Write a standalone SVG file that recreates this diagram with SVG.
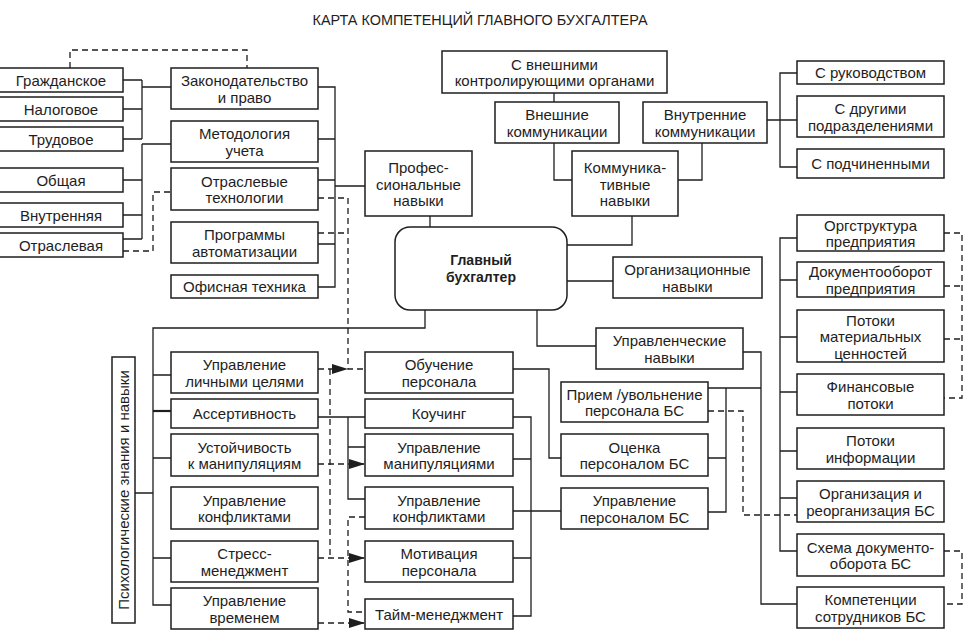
<svg xmlns="http://www.w3.org/2000/svg" width="980" height="642" viewBox="0 0 980 642">
<style>
.b{fill:#fff;stroke:#1e1e1e;stroke-width:1.5}
.t{font-family:"Liberation Sans",Arial,sans-serif;font-size:15px;fill:#1e1e1e;text-anchor:middle;dominant-baseline:central}
.bold{font-weight:bold;font-size:14px}
.c{fill:none;stroke:#1e1e1e;stroke-width:1.3}
.d{fill:none;stroke:#1e1e1e;stroke-width:1.3;stroke-dasharray:6 4}
</style>
<defs>
<marker id="ah" markerUnits="userSpaceOnUse" markerWidth="16" markerHeight="10" refX="16" refY="5" orient="auto">
<path d="M0,0 L16,5 L0,10 z" fill="#1e1e1e"/>
</marker>
</defs>
<rect width="980" height="642" fill="#fff"/>
<text x="480" y="20" class="t" style="font-size:14px" textLength="335" lengthAdjust="spacingAndGlyphs">КАРТА КОМПЕТЕНЦИЙ ГЛАВНОГО БУХГАЛТЕРА</text>

<g id="connectors">
<path class="c" d="M123,80 H142 M123,109 H142 M123,139 H142 M142,80 V139 M142,87 H171"/>
<path class="c" d="M142,144 H171 M142,144 V239 M123,180 H142 M123,215 H142 M123,239 H142"/>
<path class="c" d="M318,87 H335 V287 H318 M318,139 H335 M318,180 H335 M318,244 H335 M335,186 H365"/>
<path class="c" d="M430,216 V227 M554,93 V102 M554,143 V180 H572 M702,143 V180 H678 M632,216 V245 H567"/>
<path class="c" d="M767,120 H797 M797,73 H780 V167 H797 M567,281 H613 M537,310 V346 H596"/>
<path class="c" d="M425,310 V328 H153 V605 H171 M153,375 H171 M153,458 H171 M153,558 H171 M135,493 H153"/>
<path class="c" style="stroke-width:2.2" d="M153,411 H171"/>
<path class="c" d="M318,417 H365 M348,417 V499 H365 M348,447 H365"/>
<path class="c" d="M513,369 H549 V458 H561 M513,417 H531 V616 H513 M513,459 H531 M513,511 H561 M513,558 H531"/>
<path class="c" d="M708,388 H761 M726,388 V512 H708 M708,458 H726 M743,352 H761 V604 H797"/>
<path class="c" d="M797,238 H780 V551 H797 M780,280 H797 M780,337 H797 M780,392 H797 M780,451 H797 M780,498 H797"/>
<path class="d" d="M70,68 V50 H247 V68"/>
<path class="d" d="M123,251 H153 V192 H171"/>
<path class="d" d="M318,198 H348 V369 H365 M318,233 H348"/>
<path class="d" d="M318,369 H348" marker-end="url(#ah)"/>
<path class="d" d="M330,369 V558"/>
<path class="d" d="M318,558 H365" marker-end="url(#ah)"/>
<path class="d" d="M318,464 H365" marker-end="url(#ah)"/>
<path class="d" d="M318,623 H365" marker-end="url(#ah)"/>
<path class="d" d="M365,517 H348 V612 H365"/>
<path class="d" d="M708,411 H743 V515 H797"/>
<path class="d" d="M944,233 H962 V398 H944 M944,286 H962 M944,339 H962"/>
<path class="d" d="M944,551 H962 V604 H944"/>
</g>

<g id="n-grazhd"><rect class="b" x="-1" y="68" width="124" height="24"/><text class="t" x="61" y="80">Гражданское</text></g>
<g id="n-nalog"><rect class="b" x="-1" y="97" width="124" height="24"/><text class="t" x="61" y="109">Налоговое</text></g>
<g id="n-trud"><rect class="b" x="-1" y="127" width="124" height="24"/><text class="t" x="61" y="139">Трудовое</text></g>
<g id="n-obsh"><rect class="b" x="-1" y="168" width="124" height="24"/><text class="t" x="61" y="180">Общая</text></g>
<g id="n-vnutr"><rect class="b" x="-1" y="203" width="124" height="24"/><text class="t" x="61" y="215">Внутренняя</text></g>
<g id="n-otrasl"><rect class="b" x="-1" y="233" width="124" height="24"/><text class="t" x="61" y="245">Отраслевая</text></g>

<g id="n-zakon"><rect class="b" x="171" y="68" width="147" height="41"/><text class="t"><tspan x="244.5" y="80.25">Законодательство</tspan><tspan x="244.5" y="96.75">и право</tspan></text></g>
<g id="n-metod"><rect class="b" x="171" y="121" width="147" height="41"/><text class="t"><tspan x="244.5" y="133.25">Методология</tspan><tspan x="244.5" y="149.75">учета</tspan></text></g>
<g id="n-otrtech"><rect class="b" x="171" y="168" width="147" height="42"/><text class="t"><tspan x="244.5" y="180.75">Отраслевые</tspan><tspan x="244.5" y="197.25">технологии</tspan></text></g>
<g id="n-progr"><rect class="b" x="171" y="222" width="147" height="41"/><text class="t"><tspan x="244.5" y="234.25">Программы</tspan><tspan x="244.5" y="250.75">автоматизации</tspan></text></g>
<g id="n-ofis"><rect class="b" x="171" y="275" width="147" height="23"/><text class="t" x="244.5" y="286.5">Офисная техника</text></g>

<g id="n-prof"><rect class="b" x="365" y="151" width="107" height="65"/><text class="t"><tspan x="418.5" y="167">Профес-</tspan><tspan x="418.5" y="183.5">сиональные</tspan><tspan x="418.5" y="200">навыки</tspan></text></g>
<g id="n-vnkontr"><rect class="b" x="442" y="51" width="225" height="42"/><text class="t"><tspan x="554.5" y="63.75">С внешними</tspan><tspan x="554.5" y="80.25">контролирующими органами</tspan></text></g>
<g id="n-vneshkom"><rect class="b" x="495" y="102" width="124" height="41"/><text class="t"><tspan x="557" y="114.25">Внешние</tspan><tspan x="557" y="130.75">коммуникации</tspan></text></g>
<g id="n-vnutrkom"><rect class="b" x="643" y="102" width="124" height="41"/><text class="t"><tspan x="705" y="114.25">Внутренние</tspan><tspan x="705" y="130.75">коммуникации</tspan></text></g>
<g id="n-kommun"><rect class="b" x="572" y="151" width="106" height="65"/><text class="t"><tspan x="625" y="167">Коммуника-</tspan><tspan x="625" y="183.5">тивные</tspan><tspan x="625" y="200">навыки</tspan></text></g>
<g id="n-glavbuh"><rect class="b" x="395" y="227" width="172" height="83" rx="15"/><text class="t bold"><tspan x="481" y="260">Главный</tspan><tspan x="481" y="277">бухгалтер</tspan></text></g>
<g id="n-organiz"><rect class="b" x="613" y="257" width="149" height="41"/><text class="t"><tspan x="687.5" y="269.25">Организационные</tspan><tspan x="687.5" y="285.75">навыки</tspan></text></g>
<g id="n-upravl"><rect class="b" x="596" y="328" width="147" height="41"/><text class="t"><tspan x="669.5" y="340.25">Управленческие</tspan><tspan x="669.5" y="356.75">навыки</tspan></text></g>

<g id="n-rukov"><rect class="b" x="797" y="61" width="147" height="23"/><text class="t" x="870.5" y="72.5">С руководством</text></g>
<g id="n-drugie"><rect class="b" x="797" y="96" width="147" height="41"/><text class="t"><tspan x="870.5" y="108.25">С другими</tspan><tspan x="870.5" y="124.75">подразделениями</tspan></text></g>
<g id="n-podch"><rect class="b" x="797" y="149" width="147" height="29"/><text class="t" x="870.5" y="163.5">С подчиненными</text></g>

<g id="n-orgstr"><rect class="b" x="797" y="215" width="147" height="36"/><text class="t"><tspan x="870.5" y="224.75">Оргструктура</tspan><tspan x="870.5" y="241.25">предприятия</tspan></text></g>
<g id="n-docob"><rect class="b" x="797" y="262" width="147" height="35"/><text class="t"><tspan x="870.5" y="271.25">Документооборот</tspan><tspan x="870.5" y="287.75">предприятия</tspan></text></g>
<g id="n-potmat"><rect class="b" x="797" y="310" width="147" height="52"/><text class="t"><tspan x="870.5" y="319.5">Потоки</tspan><tspan x="870.5" y="336">материальных</tspan><tspan x="870.5" y="352.5">ценностей</tspan></text></g>
<g id="n-finpot"><rect class="b" x="797" y="374" width="147" height="41"/><text class="t"><tspan x="870.5" y="386.25">Финансовые</tspan><tspan x="870.5" y="402.75">потоки</tspan></text></g>
<g id="n-potinf"><rect class="b" x="797" y="428" width="147" height="41"/><text class="t"><tspan x="870.5" y="440.25">Потоки</tspan><tspan x="870.5" y="456.75">информации</tspan></text></g>
<g id="n-reorg"><rect class="b" x="797" y="481" width="147" height="41"/><text class="t"><tspan x="870.5" y="493.25">Организация и</tspan><tspan x="870.5" y="509.75">реорганизация БС</tspan></text></g>
<g id="n-shema"><rect class="b" x="797" y="534" width="147" height="42"/><text class="t"><tspan x="870.5" y="546.75">Схема документо-</tspan><tspan x="870.5" y="563.25">оборота БС</tspan></text></g>
<g id="n-kompet"><rect class="b" x="797" y="587" width="147" height="41"/><text class="t"><tspan x="870.5" y="599.25">Компетенции</tspan><tspan x="870.5" y="615.75">сотрудников БС</tspan></text></g>

<g id="n-priem"><rect class="b" x="561" y="382" width="147" height="40"/><text class="t"><tspan x="634.5" y="393.75">Прием /увольнение</tspan><tspan x="634.5" y="410.25">персонала БС</tspan></text></g>
<g id="n-ocenka"><rect class="b" x="561" y="434" width="147" height="42"/><text class="t"><tspan x="634.5" y="446.75">Оценка</tspan><tspan x="634.5" y="463.25">персоналом БС</tspan></text></g>
<g id="n-uprpers"><rect class="b" x="561" y="488" width="147" height="41"/><text class="t"><tspan x="634.5" y="500.25">Управление</tspan><tspan x="634.5" y="516.75">персоналом БС</tspan></text></g>

<g id="n-psych"><rect class="b" x="112" y="357" width="23" height="266"/><text class="t" x="123.5" y="490" transform="rotate(-90 123.5 490)">Психологические знания и навыки</text></g>

<g id="n-lichcel"><rect class="b" x="171" y="352" width="147" height="41"/><text class="t"><tspan x="244.5" y="364.25">Управление</tspan><tspan x="244.5" y="380.75">личными целями</tspan></text></g>
<g id="n-assert"><rect class="b" x="171" y="399" width="147" height="29"/><text class="t" x="244.5" y="413.5">Ассертивность</text></g>
<g id="n-ustoich"><rect class="b" x="171" y="434" width="147" height="42"/><text class="t"><tspan x="244.5" y="446.75">Устойчивость</tspan><tspan x="244.5" y="463.25">к манипуляциям</tspan></text></g>
<g id="n-konfl1"><rect class="b" x="171" y="487" width="147" height="42"/><text class="t"><tspan x="244.5" y="499.75">Управление</tspan><tspan x="244.5" y="516.25">конфликтами</tspan></text></g>
<g id="n-stress"><rect class="b" x="171" y="541" width="147" height="41"/><text class="t"><tspan x="244.5" y="553.25">Стресс-</tspan><tspan x="244.5" y="569.75">менеджмент</tspan></text></g>
<g id="n-vremya"><rect class="b" x="171" y="588" width="147" height="41"/><text class="t"><tspan x="244.5" y="600.25">Управление</tspan><tspan x="244.5" y="616.75">временем</tspan></text></g>

<g id="n-obuch"><rect class="b" x="365" y="352" width="148" height="41"/><text class="t"><tspan x="439" y="364.25">Обучение</tspan><tspan x="439" y="380.75">персонала</tspan></text></g>
<g id="n-kouch"><rect class="b" x="365" y="399" width="148" height="29"/><text class="t" x="439" y="413.5">Коучинг</text></g>
<g id="n-manip"><rect class="b" x="365" y="434" width="148" height="42"/><text class="t"><tspan x="439" y="446.75">Управление</tspan><tspan x="439" y="463.25">манипуляциями</tspan></text></g>
<g id="n-konfl2"><rect class="b" x="365" y="487" width="148" height="42"/><text class="t"><tspan x="439" y="499.75">Управление</tspan><tspan x="439" y="516.25">конфликтами</tspan></text></g>
<g id="n-motiv"><rect class="b" x="365" y="541" width="148" height="41"/><text class="t"><tspan x="439" y="553.25">Мотивация</tspan><tspan x="439" y="569.75">персонала</tspan></text></g>
<g id="n-taim"><rect class="b" x="365" y="599" width="148" height="30"/><text class="t" x="439" y="614">Тайм-менеджмент</text></g>
</svg>
